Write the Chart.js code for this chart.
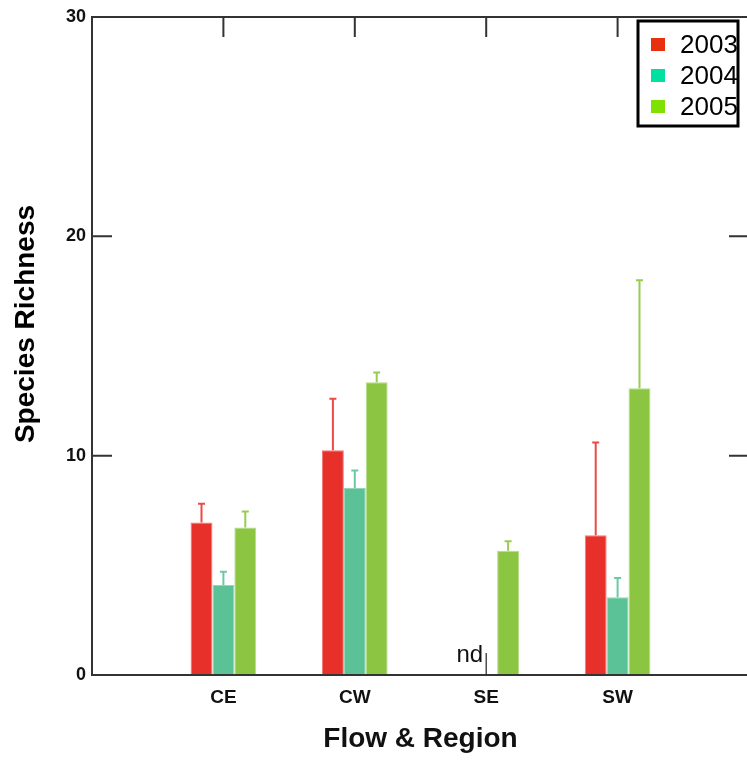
<!DOCTYPE html>
<html>
<head>
<meta charset="utf-8">
<script src="https://cdn.jsdelivr.net/npm/chart.js@4.4.1/dist/chart.umd.min.js"></script>
<style>
  html, body { margin: 0; padding: 0; background: #fff; overflow: hidden; }
  #wrap { width: 760px; height: 760px; position: relative; }
  canvas { display: block; }
</style>
</head>
<body>
<div id="wrap"><canvas id="c" width="760" height="760" style="width:760px;height:760px"></canvas></div>
<script>
// ---- data ----
const categories = ['CE', 'CW', 'SE', 'SW'];
const seriesNames = ['2003', '2004', '2005'];
const values2003 = [6.95, 10.25, 0, 6.37];
const errors2003 = [0.86, 2.35, 0, 4.23];
const values2004 = [4.10, 8.53, 0, 3.54];
const errors2004 = [0.61, 0.79, 0, 0.88];
const values2005 = [6.72, 13.35, 5.67, 13.07];
const errors2005 = [0.73, 0.44, 0.43, 4.93];
const yTicks = [0, 10, 20, 30];
const noDataLabel = 'nd';
const noDataCategory = 'SE';

// ---- styles ----
const barColors = ['#e8302a', '#5bc196', '#8bc541'];
const barEdge = ['#f07a76', '#8fd7b7', '#b4dc86'];
const errColors = ['#ec4a45', '#6cc9a2', '#98cc52'];
const legendColors = ['#e8300e', '#00e0a0', '#80e000'];
const FONT = '"Liberation Sans", Arial, Helvetica, sans-serif';

const labels = [''].concat(categories, ['']);
const pad = a => [null].concat(a, [null]);
const valueSets = [values2003, values2004, values2005];
const errorSets = [errors2003, errors2004, errors2005];

const datasets = seriesNames.map((name, i) => ({
  label: name,
  data: pad(valueSets[i]),
  errors: pad(errorSets[i]),
  backgroundColor: barColors[i],
  borderColor: barEdge[i],
  borderWidth: 1,
  categoryPercentage: 0.5,
  barPercentage: 1.0,
}));

const decor = {
  id: 'decor',
  afterDatasetsDraw(chart) {
    const ctx = chart.ctx;
    const ys = chart.scales.y;
    chart.data.datasets.forEach((ds, di) => {
      const meta = chart.getDatasetMeta(di);
      meta.data.forEach((bar, i) => {
        const v = ds.data[i], e = ds.errors[i];
        if (v == null || !e) return;
        const x = bar.x;
        const y0 = ys.getPixelForValue(v);
        const y1 = ys.getPixelForValue(v + e);
        ctx.save();
        ctx.strokeStyle = errColors[di];
        ctx.lineWidth = 2;
        ctx.beginPath();
        ctx.moveTo(x, y0); ctx.lineTo(x, y1);
        ctx.moveTo(x - 3.5, y1); ctx.lineTo(x + 3.5, y1);
        ctx.stroke();
        ctx.restore();
      });
    });
  },
  afterDraw(chart) {
    const ctx = chart.ctx;
    const {left, right, top, bottom} = chart.chartArea;
    const xs = chart.scales.x, ys = chart.scales.y;
    ctx.save();
    ctx.strokeStyle = '#333';
    ctx.lineWidth = 2;
    ctx.beginPath();
    ctx.moveTo(left, top); ctx.lineTo(right, top);
    ctx.moveTo(left, bottom); ctx.lineTo(right, bottom);
    ctx.moveTo(left, top - 1); ctx.lineTo(left, bottom + 1);
    ctx.moveTo(right, top - 1); ctx.lineTo(right, bottom + 1);
    yTicks.forEach(t => {
      if (t === ys.min || t === ys.max) return;
      const py = ys.getPixelForValue(t);
      ctx.moveTo(left, py); ctx.lineTo(left + 20, py);
      ctx.moveTo(right, py); ctx.lineTo(right - 20, py);
    });
    categories.forEach(c => {
      const px = xs.getPixelForValue(labels.indexOf(c));
      ctx.moveTo(px, top); ctx.lineTo(px, top + 20);
    });
    ctx.stroke();

    const ndx = xs.getPixelForValue(labels.indexOf(noDataCategory));
    const y0 = ys.getPixelForValue(0);
    ctx.fillStyle = '#111';
    ctx.font = '24px ' + FONT;
    ctx.textAlign = 'right';
    ctx.textBaseline = 'alphabetic';
    ctx.fillText(noDataLabel, ndx - 3, y0 - 13);
    ctx.strokeStyle = '#222';
    ctx.lineWidth = 1.2;
    ctx.beginPath();
    ctx.moveTo(ndx, y0); ctx.lineTo(ndx, ys.getPixelForValue(1));
    ctx.stroke();

    ctx.save();
    ctx.translate(26, 324);
    ctx.rotate(-Math.PI / 2);
    ctx.font = 'bold 28px ' + FONT;
    ctx.fillStyle = '#000';
    ctx.textAlign = 'center';
    ctx.textBaseline = 'middle';
    ctx.fillText('Species Richness', 0, 0);
    ctx.restore();

    const lx = 638, ly = 21, lw = 100, lh = 105;
    ctx.fillStyle = '#fff';
    ctx.fillRect(lx, ly, lw, lh);
    ctx.strokeStyle = '#000';
    ctx.lineWidth = 3;
    ctx.strokeRect(lx, ly, lw, lh);
    ctx.font = '26px ' + FONT;
    ctx.textAlign = 'left';
    ctx.textBaseline = 'middle';
    chart.data.datasets.forEach((ds, i) => {
      const cy = 44.5 + i * 31;
      ctx.fillStyle = legendColors[i];
      ctx.fillRect(651, cy - 6.5, 14, 13);
      ctx.fillStyle = '#000';
      ctx.fillText(ds.label, 680, cy + 1);
    });
    ctx.restore();
  }
};

new Chart(document.getElementById('c'), {
  type: 'bar',
  data: { labels, datasets },
  options: {
    responsive: false,
    animation: false,
    devicePixelRatio: 1,
    layout: { padding: { top: 17, right: 5, left: 0, bottom: 0 } },
    plugins: { legend: { display: false }, tooltip: { enabled: false } },
    scales: {
      x: {
        type: 'category',
        offset: false,
        grid: { display: false, drawTicks: false },
        border: { display: false },
        ticks: {
          autoSkip: false,
          maxRotation: 0,
          padding: 11,
          color: '#111',
          font: { family: FONT, size: 19, weight: 'bold' },
        },
        title: {
          display: true,
          text: 'Flow & Region',
          color: '#111',
          font: { family: FONT, size: 28, weight: 'bold' },
          padding: { top: 0, bottom: 4 },
        },
        afterFit(s) { s.height = 85; },
      },
      y: {
        min: 0,
        max: 30,
        afterBuildTicks(s) { s.ticks = yTicks.map(v => ({ value: v })); },
        grid: { display: false, drawTicks: false },
        border: { display: false },
        ticks: {
          padding: 6,
          color: '#111',
          font: { family: FONT, size: 18, weight: 'bold' },
        },
        afterFit(s) { s.width = 92; },
      },
    },
  },
  plugins: [decor],
});
</script>
</body>
</html>
